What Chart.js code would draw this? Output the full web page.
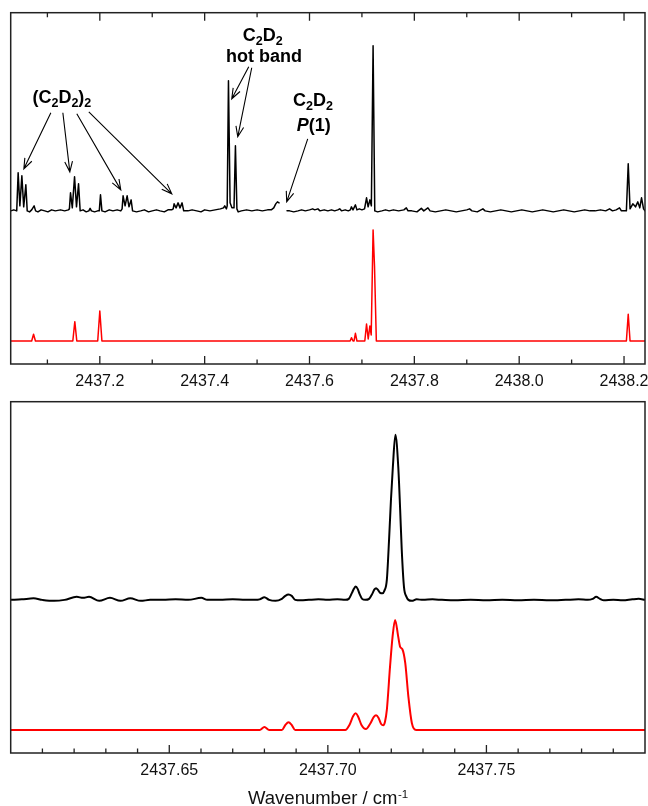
<!DOCTYPE html>
<html>
<head>
<meta charset="utf-8">
<script src="https://cdn.jsdelivr.net/npm/chart.js@4.4.0/dist/chart.umd.min.js"></script>
<style>
  html, body { margin: 0; padding: 0; background: #fff; }
  #wrap { position: relative; width: 648px; height: 806px; }
  canvas { position: absolute; left: 0; }
  #topPanel { top: 0; }
  #zoomPanel { top: 395px; }
</style>
</head>
<body>
<div id="wrap">
  <canvas id="topPanel" width="648" height="395"></canvas>
  <canvas id="zoomPanel" width="648" height="411"></canvas>
</div>
<script>
const FONT = "'Liberation Sans', Arial, Helvetica, sans-serif";

// ---- top panel: wide scan (wavenumber / cm-1, relative intensity) ----
const topExpX = [
  2437.030, 2437.036, 2437.0415, 2437.0442, 2437.0475, 2437.0513, 2437.0548, 2437.0589, 2437.0615,
  2437.066, 2437.070, 2437.0747, 2437.0775, 2437.082, 2437.088, 2437.095, 2437.101, 2437.108,
  2437.115, 2437.125, 2437.133, 2437.140, 2437.1420, 2437.1441, 2437.1475, 2437.1518, 2437.1555,
  2437.1594, 2437.1625, 2437.168, 2437.174, 2437.179, 2437.1815, 2437.184, 2437.190, 2437.196,
  2437.199, 2437.2013, 2437.204, 2437.210, 2437.218, 2437.225, 2437.233, 2437.240, 2437.2425,
  2437.2444, 2437.2482, 2437.2521, 2437.2557, 2437.2597, 2437.2625, 2437.270, 2437.278, 2437.285,
  2437.293, 2437.300, 2437.308, 2437.315, 2437.323, 2437.330, 2437.337, 2437.340, 2437.3417,
  2437.3455, 2437.3493, 2437.3530, 2437.3569, 2437.3600, 2437.368, 2437.376, 2437.385, 2437.393,
  2437.400, 2437.410, 2437.420, 2437.430, 2437.436, 2437.4383, 2437.4415, 2437.4430, 2437.4454,
  2437.4485, 2437.4520, 2437.4560, 2437.4587, 2437.4615, 2437.464, 2437.470, 2437.480, 2437.490,
  2437.500, 2437.510, 2437.520, 2437.527, 2437.5318, 2437.5356, 2437.5388, 2437.5419, 2437.549,
  2437.5571, 2437.562, 2437.570, 2437.578, 2437.585, 2437.592, 2437.600, 2437.606, 2437.610,
  2437.616, 2437.620, 2437.628, 2437.635, 2437.642, 2437.648, 2437.654, 2437.6576, 2437.661,
  2437.668, 2437.674, 2437.678, 2437.6800, 2437.6830, 2437.6876, 2437.6905, 2437.695, 2437.700,
  2437.705, 2437.7088, 2437.7118, 2437.7152, 2437.7180, 2437.7213, 2437.7245, 2437.730, 2437.738,
  2437.745, 2437.752, 2437.760, 2437.770, 2437.780, 2437.7847, 2437.788, 2437.795, 2437.805,
  2437.8133, 2437.818, 2437.8259, 2437.830, 2437.840, 2437.850, 2437.860, 2437.870, 2437.880,
  2437.890, 2437.900, 2437.9054, 2437.910, 2437.920, 2437.9308, 2437.935, 2437.945, 2437.955,
  2437.965, 2437.975, 2437.985, 2437.995, 2438.005, 2438.015, 2438.025, 2438.035, 2438.045,
  2438.055, 2438.065, 2438.075, 2438.085, 2438.095, 2438.105, 2438.115, 2438.125, 2438.135,
  2438.145, 2438.155, 2438.165, 2438.1724, 2438.178, 2438.185, 2438.1914, 2438.195, 2438.2045,
  2438.2080, 2438.2115, 2438.2168, 2438.2219, 2438.2263, 2438.2300, 2438.2334, 2438.2372, 2438.240
];
const topExpY = [
  0.00, 0.01, 0.00, 0.38, 0.05, 0.35, 0.04, 0.26, 0.00,
  -0.01, 0.01, 0.05, 0.00, -0.01, 0.01, 0.00, -0.01, 0.01,
  0.00, 0.01, 0.00, 0.01, 0.02, 0.18, 0.03, 0.34, 0.04,
  0.27, 0.00, 0.01, -0.01, 0.00, 0.025, 0.00, -0.01, 0.00,
  0.00, 0.16, 0.00, -0.01, 0.01, 0.00, 0.01, 0.00, 0.02,
  0.15, 0.05, 0.15, 0.04, 0.11, 0.00, -0.01, 0.00, 0.01,
  -0.01, 0.00, 0.01, 0.00, -0.01, 0.01, 0.01, 0.02, 0.07,
  0.03, 0.08, 0.03, 0.08, 0.00, 0.00, 0.01, 0.00, -0.01,
  0.01, 0.00, 0.01, 0.02, 0.03, 0.05, 0.02, 0.05, 1.30,
  0.08, 0.03, 0.03, 0.65, 0.02, -0.01, 0.00, 0.01, 0.00,
  0.01, 0.00, 0.01, 0.01, 0.03, 0.07, 0.09, 0.08, null,
  0.00, 0.00, -0.01, 0.00, 0.01, 0.00, 0.01, 0.02, 0.01,
  0.02, 0.00, 0.01, 0.00, 0.01, 0.00, 0.01, 0.02, 0.00,
  0.01, 0.00, 0.01, 0.04, 0.01, 0.06, 0.01, 0.02, 0.01,
  0.02, 0.13, 0.04, 0.11, 0.05, 1.65, 0.00, -0.01, 0.00,
  0.01, 0.00, 0.01, 0.00, 0.01, 0.03, 0.00, 0.00, -0.01,
  0.025, 0.00, 0.03, 0.00, -0.01, 0.00, 0.01, 0.00, -0.01,
  0.00, 0.01, 0.02, 0.00, -0.01, 0.02, 0.00, -0.01, 0.00,
  0.01, 0.00, -0.01, 0.00, 0.01, 0.00, -0.01, 0.00, 0.01,
  0.00, -0.01, 0.00, 0.01, 0.00, -0.01, 0.00, 0.01, 0.00,
  0.00, 0.01, 0.00, 0.02, 0.00, 0.01, 0.03, 0.00, 0.00,
  0.47, 0.02, 0.07, 0.04, 0.09, 0.03, 0.13, 0.02, 0.00
];
const topSimX = [
  2437.030, 2437.0700, 2437.0736, 2437.0772, 2437.1485, 2437.1523, 2437.1561, 2437.1960,
  2437.2000, 2437.2040, 2437.6775, 2437.6800, 2437.6830, 2437.6850, 2437.6876, 2437.6905,
  2437.7055, 2437.7088, 2437.7120, 2437.7152, 2437.7177, 2437.7213, 2437.7240, 2437.7275,
  2438.2045, 2438.2080, 2438.2115, 2438.240
];
const topSimY = [
  0, 0, 0.067, 0, 0, 0.193, 0, 0,
  0.30, 0, 0, 0.033, 0, 0, 0.077, 0,
  0, 0.17, 0.02, 0.15, 0.06, 1.11, 0.75, 0,
  0, 0.267, 0, 0
];

// ---- bottom panel: close-up of the C2D2 P(1) region ----
const zoomExpX = [
  2437.6000, 2437.6035, 2437.6072, 2437.6100, 2437.6137, 2437.6170, 2437.6208, 2437.6228, 2437.6247,
  2437.6279, 2437.6313, 2437.6346, 2437.6377, 2437.6410, 2437.6440, 2437.6480, 2437.6520, 2437.6560,
  2437.6601, 2437.6620, 2437.6660, 2437.6700, 2437.6740, 2437.6770, 2437.6785, 2437.6800, 2437.6815,
  2437.6835, 2437.6855, 2437.6866, 2437.6876, 2437.6886, 2437.6897, 2437.6915, 2437.6940, 2437.6970,
  2437.7000, 2437.7030, 2437.7055, 2437.7066, 2437.7076, 2437.7082, 2437.7088, 2437.7094, 2437.7100,
  2437.7108, 2437.7118, 2437.7130, 2437.7140, 2437.7147, 2437.7152, 2437.7158, 2437.7165, 2437.7172,
  2437.7178, 2437.7186, 2437.7193, 2437.7199, 2437.7205, 2437.7213, 2437.7222, 2437.7228, 2437.7233,
  2437.7240, 2437.7248, 2437.7254, 2437.7265, 2437.7280, 2437.7300, 2437.7330, 2437.7360, 2437.7400,
  2437.7450, 2437.7500, 2437.7550, 2437.7600, 2437.7650, 2437.7700, 2437.7750, 2437.7790, 2437.7820,
  2437.7835, 2437.7846, 2437.7858, 2437.7870, 2437.7900, 2437.7930, 2437.7960, 2437.7980, 2437.8000
];
const zoomExpY = [
  0.000, 0.005, 0.015, 0.000, -0.010, 0.000, 0.030, 0.020, 0.030,
  -0.010, 0.020, -0.010, 0.015, -0.010, 0.000, 0.000, 0.005, 0.000,
  0.020, 0.000, 0.000, 0.005, 0.000, 0.000, 0.005, 0.027, 0.000,
  -0.010, 0.010, 0.040, 0.053, 0.040, 0.000, -0.005, 0.000, 0.005,
  0.000, 0.005, 0.000, 0.010, 0.070, 0.110, 0.133, 0.110, 0.060,
  0.010, 0.000, 0.010, 0.060, 0.105, 0.117, 0.100, 0.070, 0.065,
  0.090, 0.200, 0.600, 1.000, 1.330, 1.650, 1.330, 0.900, 0.500,
  0.130, 0.030, 0.000, -0.010, 0.005, 0.000, 0.005, 0.000, -0.005,
  0.000, -0.005, 0.000, -0.005, 0.000, -0.005, 0.000, 0.005, 0.000,
  0.010, 0.030, 0.010, -0.005, 0.000, -0.005, 0.005, 0.010, 0.000
];
const zoomSimX = [
  2437.6000, 2437.6770, 2437.6785, 2437.6800, 2437.6815, 2437.6855, 2437.6866, 2437.6876, 2437.6886,
  2437.6897, 2437.7055, 2437.7068, 2437.7080, 2437.7088, 2437.7096, 2437.7106, 2437.7120, 2437.7133,
  2437.7145, 2437.7152, 2437.7160, 2437.7168, 2437.7175, 2437.7180, 2437.7186, 2437.7196, 2437.7204,
  2437.7212, 2437.7222, 2437.7228, 2437.7235, 2437.7244, 2437.7254, 2437.7265, 2437.7278, 2437.8000
];
const zoomSimY = [
  0, 0, 0, 0.030, 0, 0, 0.050, 0.077, 0.050,
  0, 0, 0.050, 0.140, 0.167, 0.130, 0.050, 0.010, 0.060,
  0.130, 0.147, 0.120, 0.060, 0.047, 0.080, 0.200, 0.630, 0.930,
  1.100, 0.930, 0.830, 0.807, 0.670, 0.330, 0.067, 0, 0
];

const topRange = [2437.03, 2438.24];
const zoomRange = [2437.60, 2437.80];
const topMajorTicks = [2437.2, 2437.4, 2437.6, 2437.8, 2438.0, 2438.2];
const zoomMajorTicks = [2437.65, 2437.70, 2437.75];
const EXP_OFFSET = 1.30;   // experimental trace is lifted above the simulation
const Y_RANGE = [-0.23, 3.28];

// annotation arrows [x0, y0, x1, y1] in data units (tail -> head)
const arrows = [
  [2437.1066, 2.28, 2437.0551, 1.72],
  [2437.1295, 2.28, 2437.1428, 1.69],
  [2437.1561, 2.27, 2437.2400, 1.51],
  [2437.1790, 2.29, 2437.3373, 1.47],
  [2437.4841, 2.74, 2437.4517, 2.42],
  [2437.4898, 2.73, 2437.4631, 2.04],
  [2437.5966, 2.02, 2437.5565, 1.39]
];
const labels = [
  { x: 2437.1276, y: 2.38, parts: [['(C'], ['2', 'sub'], ['D'], ['2', 'sub'], [')'], ['2', 'sub']] },
  { x: 2437.5108, y: 3.00, parts: [['C'], ['2', 'sub'], ['D'], ['2', 'sub']] },
  { x: 2437.5133, y: 2.785, parts: [['hot band']] },
  { x: 2437.6067, y: 2.35, parts: [['C'], ['2', 'sub'], ['D'], ['2', 'sub']] },
  { x: 2437.6080, y: 2.095, parts: [['P', 'it'], ['(1)']] }
];

function toPoints(xs, ys, off) {
  return xs.map((x, i) => ({ x: x, y: ys[i] === null ? null : ys[i] + off }));
}

function isMajor(v, list) {
  return list.some(m => Math.abs(m - v) < 1e-6);
}

const frameTicks = {
  id: 'frameTicks',
  afterDraw(chart, args, opts) {
    const { ctx, chartArea: a, scales: { x } } = chart;
    ctx.save();
    ctx.strokeStyle = '#222';
    ctx.lineWidth = 1.3;
    ctx.beginPath();
    x.ticks.forEach(t => {
      const px = x.getPixelForValue(t.value);
      if (px <= a.left + 1 || px >= a.right - 1) return;
      const len = t.label ? 8 : 4.5;
      ctx.moveTo(px, a.bottom);
      ctx.lineTo(px, a.bottom - len);
      if (opts.mirror) {
        ctx.moveTo(px, a.top);
        ctx.lineTo(px, a.top + len);
      }
    });
    ctx.stroke();
    ctx.lineWidth = 1.5;
    ctx.strokeRect(a.left, a.top, a.width, a.height);
    ctx.restore();
  }
};

function drawRich(ctx, parts, cx, by) {
  const fontFor = p => (p[1] === 'it' ? 'italic ' : '') + 'bold ' + (p[1] === 'sub' ? 12.5 : 18) + 'px ' + FONT;
  let total = 0;
  const widths = parts.map(p => {
    ctx.font = fontFor(p);
    const w = ctx.measureText(p[0]).width;
    total += w;
    return w;
  });
  let px = cx - total / 2;
  ctx.fillStyle = '#000';
  ctx.textAlign = 'left';
  ctx.textBaseline = 'alphabetic';
  parts.forEach((p, i) => {
    ctx.font = fontFor(p);
    ctx.fillText(p[0], px, by + (p[1] === 'sub' ? 4.5 : 0));
    px += widths[i];
  });
}

const annotate = {
  id: 'annotate',
  afterDraw(chart) {
    const { ctx, scales: { x, y } } = chart;
    ctx.save();
    ctx.strokeStyle = '#000';
    ctx.lineWidth = 1.1;
    arrows.forEach(ar => {
      const x0 = x.getPixelForValue(ar[0]), y0 = y.getPixelForValue(ar[1]);
      const x1 = x.getPixelForValue(ar[2]), y1 = y.getPixelForValue(ar[3]);
      const ang = Math.atan2(y1 - y0, x1 - x0);
      const L = 11, phi = 0.36;
      ctx.beginPath();
      ctx.moveTo(x0, y0);
      ctx.lineTo(x1, y1);
      ctx.moveTo(x1 - L * Math.cos(ang - phi), y1 - L * Math.sin(ang - phi));
      ctx.lineTo(x1, y1);
      ctx.lineTo(x1 - L * Math.cos(ang + phi), y1 - L * Math.sin(ang + phi));
      ctx.stroke();
    });
    labels.forEach(l => drawRich(ctx, l.parts, x.getPixelForValue(l.x), y.getPixelForValue(l.y)));
    ctx.restore();
  }
};

const axisTitle = {
  id: 'axisTitle',
  afterDraw(chart) {
    const { ctx, chartArea: a } = chart;
    const main = 'Wavenumber / cm', sup = '-1';
    ctx.save();
    ctx.fillStyle = '#111';
    ctx.textBaseline = 'alphabetic';
    ctx.textAlign = 'left';
    ctx.font = '18.5px ' + FONT;
    const w1 = ctx.measureText(main).width;
    ctx.font = '11.5px ' + FONT;
    const w2 = ctx.measureText(sup).width;
    const x0 = (a.left + a.right) / 2 - (w1 + w2) / 2;
    const by = chart.height - 2;
    ctx.font = '18.5px ' + FONT;
    ctx.fillText(main, x0, by);
    ctx.font = '11.5px ' + FONT;
    ctx.fillText(sup, x0 + w1 + 0.5, by - 6);
    ctx.restore();
  }
};

function makePanel(id, cfg) {
  return new Chart(document.getElementById(id), {
    type: 'line',
    data: {
      datasets: [
        {
          data: toPoints(cfg.expX, cfg.expY, EXP_OFFSET),
          borderColor: '#000',
          borderWidth: cfg.lw,
          cubicInterpolationMode: cfg.smooth ? 'monotone' : 'default',
          tension: 0
        },
        {
          data: toPoints(cfg.simX, cfg.simY, 0),
          borderColor: '#ff0000',
          borderWidth: cfg.lw,
          cubicInterpolationMode: cfg.smooth ? 'monotone' : 'default',
          tension: 0
        }
      ]
    },
    options: {
      responsive: false,
      animation: false,
      devicePixelRatio: 1,
      layout: { autoPadding: false, padding: { left: 10.7, right: 3, top: cfg.padTop, bottom: 0 } },
      elements: {
        point: { radius: 0, hoverRadius: 0 },
        line: { borderJoinStyle: 'round', borderCapStyle: 'round', fill: false }
      },
      scales: {
        x: {
          type: 'linear',
          min: cfg.range[0],
          max: cfg.range[1],
          grid: { display: false, drawTicks: false },
          border: { display: false },
          ticks: {
            stepSize: cfg.step,
            includeBounds: false,
            autoSkip: false,
            maxRotation: 0,
            minRotation: 0,
            padding: cfg.labelPad,
            color: '#111',
            font: { family: FONT, size: 16 },
            callback: v => isMajor(v, cfg.major) ? v.toFixed(cfg.digits) : ''
          },
          afterFit: s => {
            s.height = cfg.axisH;
            s.paddingLeft = 0;
            s.paddingRight = 0;
          }
        },
        y: { display: false, min: Y_RANGE[0], max: Y_RANGE[1] }
      },
      plugins: {
        legend: { display: false },
        tooltip: { enabled: false },
        frameTicks: { mirror: cfg.mirror }
      }
    },
    plugins: [frameTicks].concat(cfg.extra)
  });
}

makePanel('topPanel', {
  expX: topExpX, expY: topExpY, simX: topSimX, simY: topSimY,
  range: topRange, step: 0.1, major: topMajorTicks, digits: 1,
  lw: 1.5, smooth: false, padTop: 12.7, axisH: 31, labelPad: 8,
  mirror: true, extra: [annotate]
});

makePanel('zoomPanel', {
  expX: zoomExpX, expY: zoomExpY, simX: zoomSimX, simY: zoomSimY,
  range: zoomRange, step: 0.01, major: zoomMajorTicks, digits: 2,
  lw: 2, smooth: true, padTop: 6.7, axisH: 53, labelPad: 7.5,
  mirror: false, extra: [axisTitle]
});
</script>
</body>
</html>
